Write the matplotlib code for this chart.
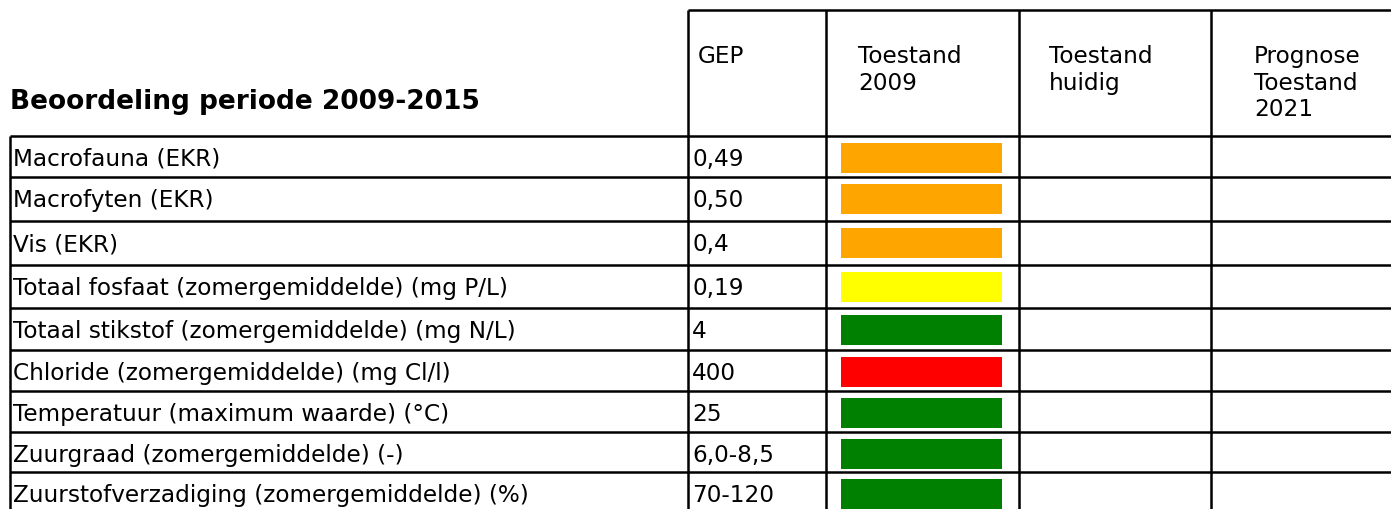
import numpy as np
import matplotlib
matplotlib.use('Agg')
import matplotlib.pyplot as plt

# Table content
title = 'Beoordeling periode 2009-2015'
headers = ['GEP', 'Toestand\n2009', 'Toestand\nhuidig', 'Prognose\nToestand\n2021']
parameters = ['Macrofauna (EKR)',
              'Macrofyten (EKR)',
              'Vis (EKR)',
              'Totaal fosfaat (zomergemiddelde) (mg P/L)',
              'Totaal stikstof (zomergemiddelde) (mg N/L)',
              'Chloride (zomergemiddelde) (mg Cl/l)',
              'Temperatuur (maximum waarde) (°C)',
              'Zuurgraad (zomergemiddelde) (-)',
              'Zuurstofverzadiging (zomergemiddelde) (%)']
gep = ['0,49', '0,50', '0,4', '0,19', '4', '400', '25', '6,0-8,5', '70-120']
toestand_2009 = ['orange', 'orange', 'orange', 'yellow', 'green', 'red',
                 'green', 'green', 'green']

STATUS_COLOURS = {'orange': '#ffa500', 'yellow': '#ffff00',
                  'green': '#008000', 'red': '#ff0000'}


def draw_table(save_location):
    '''
    Draw the assessment table and save it as png

    Parameters:
        save_location (str): file name of the figure
    '''
    fig = plt.figure(figsize=(13.91, 5.09), dpi=100)
    ax = fig.add_axes([0, 0, 1, 1])
    ax.set_xlim(0, 1391)
    ax.set_ylim(509, 0)
    ax.axis('off')

    # layout in pixels
    col_edges = [10, 688, 826, 1019, 1211, 1405]
    header_top = 10
    header_bottom = 136
    row_heights = [41, 44, 44, 43, 42, 41, 41, 40, 41]
    row_edges = header_bottom + np.concatenate([[0], np.cumsum(row_heights)])
    fs = 16.7
    lw = 1.8

    # grid lines
    ax.hlines(header_top, col_edges[1], col_edges[-1], color='black', lw=lw)
    ax.hlines(row_edges, col_edges[0], col_edges[-1], color='black', lw=lw)
    ax.vlines(col_edges[0], header_bottom, row_edges[-1], color='black', lw=lw)
    ax.vlines(col_edges[1:-1], header_top, row_edges[-1], color='black',
              lw=lw)

    # header
    ax.text(10, 109, title, fontsize=19, fontweight='bold', ha='left',
            va='baseline')
    header_x = [698, 858, 1049, 1254]
    for x, h in zip(header_x, headers):
        ax.text(x, 45, h, fontsize=fs, ha='left', va='top', linespacing=1.2)

    # rows
    tops = row_edges[:-1]
    for top, p, g in zip(tops, parameters, gep):
        ax.text(13, top + 30, p, fontsize=fs, ha='left', va='baseline')
        ax.text(692, top + 30, g, fontsize=fs, ha='left', va='baseline')
    colours = [STATUS_COLOURS[s] for s in toestand_2009]
    ax.barh(tops + 7, 161, height=30, left=841, align='edge', color=colours)

    fig.savefig(save_location, dpi=100)
    plt.close()


def main():
    draw_table('out.png')


if __name__ == "__main__":
    main()
